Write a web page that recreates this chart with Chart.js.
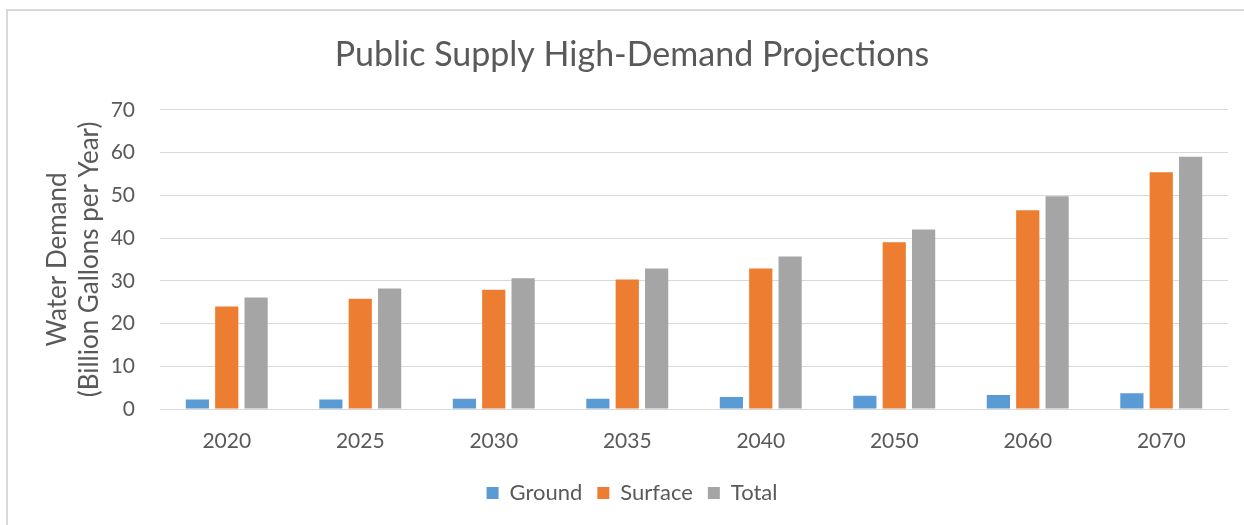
<!DOCTYPE html>
<html>
<head>
<meta charset="utf-8">
<script src="https://cdn.jsdelivr.net/npm/chart.js@4"></script>
<style>
  html, body { margin: 0; padding: 0; background: #fff; overflow: hidden; }
  #wrap {
    position: absolute; left: 6px; top: 9px;
    width: 1248px; height: 514px;
    border-left: 2px solid #d9d9d9; border-top: 2px solid #d9d9d9;
  }
  canvas { display: block; }
</style>
</head>
<body>
<div id="wrap"><canvas id="chart" width="1248" height="514"></canvas></div>
<script>
const years = ["2020", "2025", "2030", "2035", "2040", "2050", "2060", "2070"];
const ground = [2.2, 2.2, 2.4, 2.4, 2.8, 3.1, 3.3, 3.7];
const surface = [24.0, 25.8, 27.9, 30.3, 32.9, 39.0, 46.5, 55.4];
const total = [26.1, 28.2, 30.6, 32.9, 35.7, 42.0, 49.8, 59.0];

const textColor = "#595959";
const fontFamily = "Lato, 'Open Sans', sans-serif";

Chart.defaults.font.family = fontFamily;
Chart.defaults.color = textColor;

new Chart(document.getElementById("chart"), {
  type: "bar",
  data: {
    labels: years,
    datasets: [
      { label: "Ground", data: ground, backgroundColor: "#5b9bd5" },
      { label: "Surface", data: surface, backgroundColor: "#ed7d31" },
      { label: "Total", data: total, backgroundColor: "#a5a5a5" }
    ]
  },
  options: {
    responsive: false,
    animation: false,
    datasets: {
      bar: { categoryPercentage: 0.66, barPercentage: 0.79 }
    },
    layout: { padding: { top: 0, left: 0, right: 0, bottom: 11 } },
    plugins: {
      title: {
        display: true,
        text: "Public Supply High-Demand Projections",
        font: { size: 34, weight: "400" },
        color: textColor,
        padding: { top: 24, bottom: 34 }
      },
      legend: {
        position: "bottom",
        labels: {
          boxWidth: 12,
          boxHeight: 12,
          font: { size: 22 },
          color: textColor,
          padding: 15
        }
      },
      tooltip: { enabled: false }
    },
    scales: {
      x: {
        grid: { display: false },
        border: { color: "#d9d9d9" },
        ticks: { font: { size: 21 }, padding: 12 },
        afterFit: (scale) => { scale.height = 58; }
      },
      y: {
        min: 0,
        max: 70,
        ticks: { stepSize: 10, font: { size: 21 }, padding: 25 },
        grid: { color: "#d9d9d9", drawTicks: false },
        border: { display: false },
        title: {
          display: true,
          text: ["Water Demand", "(Billion Gallons per Year)"],
          font: { size: 26, lineHeight: 1.23 },
          color: textColor,
          padding: { top: 34, bottom: 0 }
        },
        afterFit: (scale) => { scale.width = 152; }
      },
      // empty right-hand spacer so the title centres like the original
      spacer: {
        position: "right",
        grid: { display: false },
        border: { display: false },
        ticks: { display: false },
        afterFit: (scale) => { scale.width = 28; }
      }
    }
  }
});
</script>
</body>
</html>
